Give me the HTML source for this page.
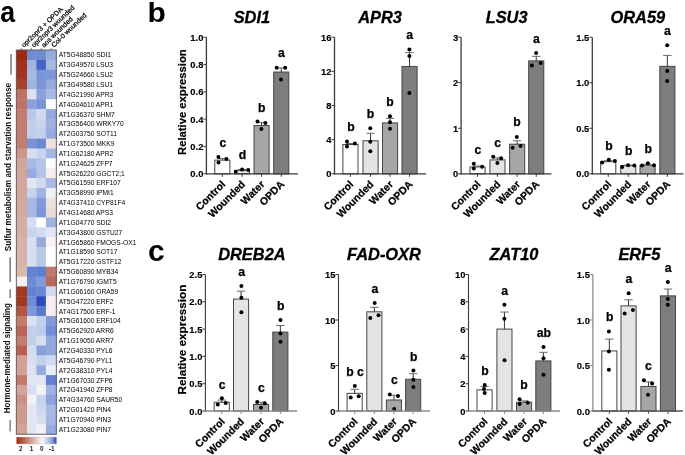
<!DOCTYPE html>
<html><head><meta charset="utf-8"><title>Figure</title>
<style>
html,body{margin:0;padding:0;background:#fff;}
body{width:685px;height:455px;overflow:hidden;}
svg{display:block;font-family:"Liberation Sans", sans-serif;filter:blur(0.35px);}
</style></head>
<body>
<svg width="685" height="455" viewBox="0 0 685 455">
<rect width="685" height="455" fill="#fff"/>
<rect x="16.3" y="50" width="11.1" height="10.25" fill="#9e2810"/>
<rect x="27" y="50" width="9.8" height="10.25" fill="#6e8cd2"/>
<rect x="36.4" y="50" width="9.9" height="10.25" fill="#6e8cd2"/>
<rect x="45.9" y="50" width="10.8" height="10.25" fill="#96aadc"/>
<text x="58.8" y="57.43" font-size="6.7" fill="#000">AT5G48850 SDI1</text>
<rect x="16.3" y="59.85" width="11.1" height="10.25" fill="#a3301c"/>
<rect x="27" y="59.85" width="9.8" height="10.25" fill="#a0b4e1"/>
<rect x="36.4" y="59.85" width="9.9" height="10.25" fill="#4664c8"/>
<rect x="45.9" y="59.85" width="10.8" height="10.25" fill="#a5b9e1"/>
<text x="58.8" y="67.28" font-size="6.7" fill="#000">AT3G49570 LSU3</text>
<rect x="16.3" y="69.7" width="11.1" height="10.25" fill="#a3321e"/>
<rect x="27" y="69.7" width="9.8" height="10.25" fill="#a5b9e4"/>
<rect x="36.4" y="69.7" width="9.9" height="10.25" fill="#7896d7"/>
<rect x="45.9" y="69.7" width="10.8" height="10.25" fill="#7d96d7"/>
<text x="58.8" y="77.13" font-size="6.7" fill="#000">AT5G24660 LSU2</text>
<rect x="16.3" y="79.55" width="11.1" height="10.25" fill="#a8402c"/>
<rect x="27" y="79.55" width="9.8" height="10.25" fill="#a0b4e1"/>
<rect x="36.4" y="79.55" width="9.9" height="10.25" fill="#7d96d7"/>
<rect x="45.9" y="79.55" width="10.8" height="10.25" fill="#96aadc"/>
<text x="58.8" y="86.98" font-size="6.7" fill="#000">AT3G49580 LSU1</text>
<rect x="16.3" y="89.41" width="11.1" height="10.25" fill="#be7364"/>
<rect x="27" y="89.41" width="9.8" height="10.25" fill="#dce1f0"/>
<rect x="36.4" y="89.41" width="9.9" height="10.25" fill="#8ca0dc"/>
<rect x="45.9" y="89.41" width="10.8" height="10.25" fill="#aab9e4"/>
<text x="58.8" y="96.83" font-size="6.7" fill="#000">AT4G21990 APR3</text>
<rect x="16.3" y="99.26" width="11.1" height="10.25" fill="#be7364"/>
<rect x="27" y="99.26" width="9.8" height="10.25" fill="#8ca0dc"/>
<rect x="36.4" y="99.26" width="9.9" height="10.25" fill="#7891d7"/>
<rect x="45.9" y="99.26" width="10.8" height="10.25" fill="#ffffff"/>
<text x="58.8" y="106.68" font-size="6.7" fill="#000">AT4G04610 APR1</text>
<rect x="16.3" y="109.11" width="11.1" height="10.25" fill="#c37d6e"/>
<rect x="27" y="109.11" width="9.8" height="10.25" fill="#b9c8e8"/>
<rect x="36.4" y="109.11" width="9.9" height="10.25" fill="#d2daf0"/>
<rect x="45.9" y="109.11" width="10.8" height="10.25" fill="#96aade"/>
<text x="58.8" y="116.53" font-size="6.7" fill="#000">AT1G36370 SHM7</text>
<rect x="16.3" y="118.96" width="11.1" height="10.25" fill="#c37d6e"/>
<rect x="27" y="118.96" width="9.8" height="10.25" fill="#c3cdeb"/>
<rect x="36.4" y="118.96" width="9.9" height="10.25" fill="#c8d4ee"/>
<rect x="45.9" y="118.96" width="10.8" height="10.25" fill="#a0b2e1"/>
<text x="58.8" y="126.38" font-size="6.7" fill="#000">AT3G56400 WRKY70</text>
<rect x="16.3" y="128.81" width="11.1" height="10.25" fill="#c37d6e"/>
<rect x="27" y="128.81" width="9.8" height="10.25" fill="#becdeb"/>
<rect x="36.4" y="128.81" width="9.9" height="10.25" fill="#c3d0ec"/>
<rect x="45.9" y="128.81" width="10.8" height="10.25" fill="#96aade"/>
<text x="58.8" y="136.24" font-size="6.7" fill="#000">AT2G03750 SOT11</text>
<rect x="16.3" y="138.66" width="11.1" height="10.25" fill="#c37d6e"/>
<rect x="27" y="138.66" width="9.8" height="10.25" fill="#7891d7"/>
<rect x="36.4" y="138.66" width="9.9" height="10.25" fill="#6987d2"/>
<rect x="45.9" y="138.66" width="10.8" height="10.25" fill="#eee1de"/>
<text x="58.8" y="146.09" font-size="6.7" fill="#000">AT1G73500 MKK9</text>
<rect x="16.3" y="148.51" width="11.1" height="10.25" fill="#cd9687"/>
<rect x="27" y="148.51" width="9.8" height="10.25" fill="#d7def0"/>
<rect x="36.4" y="148.51" width="9.9" height="10.25" fill="#c8d4ee"/>
<rect x="45.9" y="148.51" width="10.8" height="10.25" fill="#a5b6e2"/>
<text x="58.8" y="155.94" font-size="6.7" fill="#000">AT1G62180 APR2</text>
<rect x="16.3" y="158.36" width="11.1" height="10.25" fill="#d2a59b"/>
<rect x="27" y="158.36" width="9.8" height="10.25" fill="#a5b9e4"/>
<rect x="36.4" y="158.36" width="9.9" height="10.25" fill="#b4c3e8"/>
<rect x="45.9" y="158.36" width="10.8" height="10.25" fill="#fcfcfc"/>
<text x="58.8" y="165.79" font-size="6.7" fill="#000">AT1G24625 ZFP7</text>
<rect x="16.3" y="168.22" width="11.1" height="10.25" fill="#d2a59b"/>
<rect x="27" y="168.22" width="9.8" height="10.25" fill="#96ace0"/>
<rect x="36.4" y="168.22" width="9.9" height="10.25" fill="#b4c3e8"/>
<rect x="45.9" y="168.22" width="10.8" height="10.25" fill="#f5eeec"/>
<text x="58.8" y="175.64" font-size="6.7" fill="#000">AT5G26220 GGCT2;1</text>
<rect x="16.3" y="178.07" width="11.1" height="10.25" fill="#d2a89e"/>
<rect x="27" y="178.07" width="9.8" height="10.25" fill="#e1e6f3"/>
<rect x="36.4" y="178.07" width="9.9" height="10.25" fill="#d2daf0"/>
<rect x="45.9" y="178.07" width="10.8" height="10.25" fill="#aabae4"/>
<text x="58.8" y="185.49" font-size="6.7" fill="#000">AT5G61590 ERF107</text>
<rect x="16.3" y="187.92" width="11.1" height="10.25" fill="#d2a89e"/>
<rect x="27" y="187.92" width="9.8" height="10.25" fill="#c8d2ed"/>
<rect x="36.4" y="187.92" width="9.9" height="10.25" fill="#a0b2e1"/>
<rect x="45.9" y="187.92" width="10.8" height="10.25" fill="#eef0f6"/>
<text x="58.8" y="195.34" font-size="6.7" fill="#000">AT3G58990 IPMI1</text>
<rect x="16.3" y="197.77" width="11.1" height="10.25" fill="#d4aaa0"/>
<rect x="27" y="197.77" width="9.8" height="10.25" fill="#a5b9e4"/>
<rect x="36.4" y="197.77" width="9.9" height="10.25" fill="#829bda"/>
<rect x="45.9" y="197.77" width="10.8" height="10.25" fill="#eee1de"/>
<text x="58.8" y="205.19" font-size="6.7" fill="#000">AT4G37410 CYP81F4</text>
<rect x="16.3" y="207.62" width="11.1" height="10.25" fill="#d4aaa0"/>
<rect x="27" y="207.62" width="9.8" height="10.25" fill="#a5b9e4"/>
<rect x="36.4" y="207.62" width="9.9" height="10.25" fill="#7d96d8"/>
<rect x="45.9" y="207.62" width="10.8" height="10.25" fill="#ebdcd7"/>
<text x="58.8" y="215.05" font-size="6.7" fill="#000">AT4G14680 APS3</text>
<rect x="16.3" y="217.47" width="11.1" height="10.25" fill="#d4aca2"/>
<rect x="27" y="217.47" width="9.8" height="10.25" fill="#d7def0"/>
<rect x="36.4" y="217.47" width="9.9" height="10.25" fill="#ffffff"/>
<rect x="45.9" y="217.47" width="10.8" height="10.25" fill="#a0b2e1"/>
<text x="58.8" y="224.9" font-size="6.7" fill="#000">AT1G04770 SDI2</text>
<rect x="16.3" y="227.32" width="11.1" height="10.25" fill="#d4aca2"/>
<rect x="27" y="227.32" width="9.8" height="10.25" fill="#c8d4ee"/>
<rect x="36.4" y="227.32" width="9.9" height="10.25" fill="#d2daf0"/>
<rect x="45.9" y="227.32" width="10.8" height="10.25" fill="#e1e6f3"/>
<text x="58.8" y="234.75" font-size="6.7" fill="#000">AT3G43800 GSTU27</text>
<rect x="16.3" y="237.17" width="11.1" height="10.25" fill="#d7b2a8"/>
<rect x="27" y="237.17" width="9.8" height="10.25" fill="#d7def0"/>
<rect x="36.4" y="237.17" width="9.9" height="10.25" fill="#96aade"/>
<rect x="45.9" y="237.17" width="10.8" height="10.25" fill="#f8f3f0"/>
<text x="58.8" y="244.6" font-size="6.7" fill="#000">AT1G65860 FMOGS-OX1</text>
<rect x="16.3" y="247.03" width="11.1" height="10.25" fill="#d7b4aa"/>
<rect x="27" y="247.03" width="9.8" height="10.25" fill="#d7def0"/>
<rect x="36.4" y="247.03" width="9.9" height="10.25" fill="#b9c8e8"/>
<rect x="45.9" y="247.03" width="10.8" height="10.25" fill="#ffffff"/>
<text x="58.8" y="254.45" font-size="6.7" fill="#000">AT1G18590 SOT17</text>
<rect x="16.3" y="256.88" width="11.1" height="10.25" fill="#d7b4aa"/>
<rect x="27" y="256.88" width="9.8" height="10.25" fill="#d7def0"/>
<rect x="36.4" y="256.88" width="9.9" height="10.25" fill="#b9c8e8"/>
<rect x="45.9" y="256.88" width="10.8" height="10.25" fill="#ffffff"/>
<text x="58.8" y="264.3" font-size="6.7" fill="#000">AT5G17220 GSTF12</text>
<rect x="16.3" y="266.73" width="11.1" height="10.25" fill="#dcb9af"/>
<rect x="27" y="266.73" width="9.8" height="10.25" fill="#6482d2"/>
<rect x="36.4" y="266.73" width="9.9" height="10.25" fill="#5f7dd0"/>
<rect x="45.9" y="266.73" width="10.8" height="10.25" fill="#c07a6b"/>
<text x="58.8" y="274.15" font-size="6.7" fill="#000">AT5G60890 MYB34</text>
<rect x="16.3" y="276.58" width="11.1" height="10.25" fill="#f5eeeb"/>
<rect x="27" y="276.58" width="9.8" height="10.25" fill="#6e8cd4"/>
<rect x="36.4" y="276.58" width="9.9" height="10.25" fill="#829bda"/>
<rect x="45.9" y="276.58" width="10.8" height="10.25" fill="#b9695a"/>
<text x="58.8" y="284.01" font-size="6.7" fill="#000">AT1G76790 IGMT5</text>
<rect x="16.3" y="286.43" width="11.1" height="10.25" fill="#a5371e"/>
<rect x="27" y="286.43" width="9.8" height="10.25" fill="#6482d2"/>
<rect x="36.4" y="286.43" width="9.9" height="10.25" fill="#6987d2"/>
<rect x="45.9" y="286.43" width="10.8" height="10.25" fill="#d2daf0"/>
<text x="58.8" y="293.86" font-size="6.7" fill="#000">AT1G06160 ORA59</text>
<rect x="16.3" y="296.28" width="11.1" height="10.25" fill="#a5371e"/>
<rect x="27" y="296.28" width="9.8" height="10.25" fill="#6e8cd4"/>
<rect x="36.4" y="296.28" width="9.9" height="10.25" fill="#2d4bb9"/>
<rect x="45.9" y="296.28" width="10.8" height="10.25" fill="#f5eeec"/>
<text x="58.8" y="303.71" font-size="6.7" fill="#000">AT5G47220 ERF2</text>
<rect x="16.3" y="306.13" width="11.1" height="10.25" fill="#b45541"/>
<rect x="27" y="306.13" width="9.8" height="10.25" fill="#7d96d8"/>
<rect x="36.4" y="306.13" width="9.9" height="10.25" fill="#5a78cd"/>
<rect x="45.9" y="306.13" width="10.8" height="10.25" fill="#f5eeec"/>
<text x="58.8" y="313.56" font-size="6.7" fill="#000">AT4G17500 ERF-1</text>
<rect x="16.3" y="315.98" width="11.1" height="10.25" fill="#c37d6e"/>
<rect x="27" y="315.98" width="9.8" height="10.25" fill="#dce2f2"/>
<rect x="36.4" y="315.98" width="9.9" height="10.25" fill="#c3d0ec"/>
<rect x="45.9" y="315.98" width="10.8" height="10.25" fill="#829bda"/>
<text x="58.8" y="323.41" font-size="6.7" fill="#000">AT5G61600 ERF104</text>
<rect x="16.3" y="325.84" width="11.1" height="10.25" fill="#b96455"/>
<rect x="27" y="325.84" width="9.8" height="10.25" fill="#c3d0ec"/>
<rect x="36.4" y="325.84" width="9.9" height="10.25" fill="#becbea"/>
<rect x="45.9" y="325.84" width="10.8" height="10.25" fill="#738ed6"/>
<text x="58.8" y="333.26" font-size="6.7" fill="#000">AT5G62920 ARR6</text>
<rect x="16.3" y="335.69" width="11.1" height="10.25" fill="#c37d6e"/>
<rect x="27" y="335.69" width="9.8" height="10.25" fill="#c3d0ec"/>
<rect x="36.4" y="335.69" width="9.9" height="10.25" fill="#d7def0"/>
<rect x="45.9" y="335.69" width="10.8" height="10.25" fill="#91a8de"/>
<text x="58.8" y="343.11" font-size="6.7" fill="#000">AT1G19050 ARR7</text>
<rect x="16.3" y="345.54" width="11.1" height="10.25" fill="#b95f50"/>
<rect x="27" y="345.54" width="9.8" height="10.25" fill="#d4dcf0"/>
<rect x="36.4" y="345.54" width="9.9" height="10.25" fill="#8aa0db"/>
<rect x="45.9" y="345.54" width="10.8" height="10.25" fill="#94a8dd"/>
<text x="58.8" y="352.96" font-size="6.7" fill="#000">AT2G40330 PYL6</text>
<rect x="16.3" y="355.39" width="11.1" height="10.25" fill="#d2a094"/>
<rect x="27" y="355.39" width="9.8" height="10.25" fill="#d7def0"/>
<rect x="36.4" y="355.39" width="9.9" height="10.25" fill="#c3d0ec"/>
<rect x="45.9" y="355.39" width="10.8" height="10.25" fill="#d2daf0"/>
<text x="58.8" y="362.82" font-size="6.7" fill="#000">AT5G46790 PYL1</text>
<rect x="16.3" y="365.24" width="11.1" height="10.25" fill="#d2a094"/>
<rect x="27" y="365.24" width="9.8" height="10.25" fill="#dce2f2"/>
<rect x="36.4" y="365.24" width="9.9" height="10.25" fill="#96aade"/>
<rect x="45.9" y="365.24" width="10.8" height="10.25" fill="#ebeef6"/>
<text x="58.8" y="372.67" font-size="6.7" fill="#000">AT2G38310 PYL4</text>
<rect x="16.3" y="375.09" width="11.1" height="10.25" fill="#c37869"/>
<rect x="27" y="375.09" width="9.8" height="10.25" fill="#e1e6f3"/>
<rect x="36.4" y="375.09" width="9.9" height="10.25" fill="#e1e6f3"/>
<rect x="45.9" y="375.09" width="10.8" height="10.25" fill="#6480d0"/>
<text x="58.8" y="382.52" font-size="6.7" fill="#000">AT1G67030 ZFP6</text>
<rect x="16.3" y="384.94" width="11.1" height="10.25" fill="#d2a598"/>
<rect x="27" y="384.94" width="9.8" height="10.25" fill="#d7def0"/>
<rect x="36.4" y="384.94" width="9.9" height="10.25" fill="#f0f2f8"/>
<rect x="45.9" y="384.94" width="10.8" height="10.25" fill="#a0b2e1"/>
<text x="58.8" y="392.37" font-size="6.7" fill="#000">AT2G41940 ZFP8</text>
<rect x="16.3" y="394.79" width="11.1" height="10.25" fill="#cd9184"/>
<rect x="27" y="394.79" width="9.8" height="10.25" fill="#f0f2f8"/>
<rect x="36.4" y="394.79" width="9.9" height="10.25" fill="#c8d4ee"/>
<rect x="45.9" y="394.79" width="10.8" height="10.25" fill="#8ca2dc"/>
<text x="58.8" y="402.22" font-size="6.7" fill="#000">AT4G34760 SAUR50</text>
<rect x="16.3" y="404.65" width="11.1" height="10.25" fill="#d09b8e"/>
<rect x="27" y="404.65" width="9.8" height="10.25" fill="#e1e6f3"/>
<rect x="36.4" y="404.65" width="9.9" height="10.25" fill="#cdd7ee"/>
<rect x="45.9" y="404.65" width="10.8" height="10.25" fill="#aabae4"/>
<text x="58.8" y="412.07" font-size="6.7" fill="#000">AT2G01420 PIN4</text>
<rect x="16.3" y="414.5" width="11.1" height="10.25" fill="#d09b8e"/>
<rect x="27" y="414.5" width="9.8" height="10.25" fill="#e1e6f3"/>
<rect x="36.4" y="414.5" width="9.9" height="10.25" fill="#d7def0"/>
<rect x="45.9" y="414.5" width="10.8" height="10.25" fill="#a5b6e2"/>
<text x="58.8" y="421.92" font-size="6.7" fill="#000">AT1G70940 PIN3</text>
<rect x="16.3" y="424.35" width="11.1" height="10.25" fill="#d2a296"/>
<rect x="27" y="424.35" width="9.8" height="10.25" fill="#e1e6f3"/>
<rect x="36.4" y="424.35" width="9.9" height="10.25" fill="#f0f2f8"/>
<rect x="45.9" y="424.35" width="10.8" height="10.25" fill="#96aade"/>
<text x="58.8" y="431.77" font-size="6.7" fill="#000">AT1G23080 PIN7</text>
<rect x="16.3" y="50" width="40" height="384.2" fill="none" stroke="#555" stroke-width="0.9"/>
<line x1="21.3" y1="48" x2="21.3" y2="50" stroke="#555" stroke-width="0.7"/>
<line x1="31.3" y1="48" x2="31.3" y2="50" stroke="#555" stroke-width="0.7"/>
<line x1="41.3" y1="48" x2="41.3" y2="50" stroke="#555" stroke-width="0.7"/>
<line x1="51.3" y1="48" x2="51.3" y2="50" stroke="#555" stroke-width="0.7"/>
<text transform="translate(23.9,47.8) rotate(-44)" font-size="6.85" fill="#000" stroke="#000" stroke-width="0.22"><tspan>opr2opr3</tspan> + OPDA</text>
<text transform="translate(33.9,47.8) rotate(-44)" font-size="6.85" fill="#000" stroke="#000" stroke-width="0.22"><tspan>opr2opr3</tspan> wounded</text>
<text transform="translate(43.9,47.8) rotate(-44)" font-size="6.85" fill="#000" stroke="#000" stroke-width="0.22"><tspan>aos</tspan> wounded</text>
<text transform="translate(53.9,47.8) rotate(-44)" font-size="6.85" fill="#000" stroke="#000" stroke-width="0.22"><tspan>Col-0</tspan> wounded</text>
<text transform="translate(11.1,251.3) rotate(-90)" font-size="8.8" font-weight="bold" fill="#111" textLength="168.3" lengthAdjust="spacingAndGlyphs">Sulfur metabolism and starvation response</text>
<line x1="11" y1="54" x2="11" y2="74.6" stroke="#333" stroke-width="1"/>
<line x1="10.1" y1="257.4" x2="10.1" y2="282" stroke="#333" stroke-width="1"/>
<text transform="translate(9.7,413.2) rotate(-90)" font-size="8.8" font-weight="bold" fill="#111" textLength="110" lengthAdjust="spacingAndGlyphs">Hormone-mediated signaling</text>
<line x1="10.1" y1="289.2" x2="10.1" y2="298.2" stroke="#444" stroke-width="1"/>
<line x1="10.1" y1="420" x2="10.1" y2="431.5" stroke="#444" stroke-width="1"/>
<defs><linearGradient id="cb" x1="0" x2="1" y1="0" y2="0">
<stop offset="0" stop-color="#a8280f"/>
<stop offset="0.12" stop-color="#b44a32"/>
<stop offset="0.38" stop-color="#d4a396"/>
<stop offset="0.63" stop-color="#f8f5f4"/>
<stop offset="0.66" stop-color="#f6f7fb"/>
<stop offset="0.88" stop-color="#8ea3da"/>
<stop offset="1" stop-color="#2848b8"/>
</linearGradient></defs>
<rect x="16.3" y="437" width="40.3" height="7" fill="url(#cb)" stroke="#c8c8c8" stroke-width="0.4"/>
<text x="20.8" y="451.4" font-size="6.4" font-weight="bold" text-anchor="middle" fill="#222">2</text>
<text x="31.5" y="451.4" font-size="6.4" font-weight="bold" text-anchor="middle" fill="#222">1</text>
<text x="41.7" y="451.4" font-size="6.4" font-weight="bold" text-anchor="middle" fill="#222">0</text>
<text x="51.6" y="451.4" font-size="6.4" font-weight="bold" text-anchor="middle" fill="#222">-1</text>
<text transform="translate(0.2,22.1) scale(0.89,1)" font-size="30" font-weight="bold">a</text>
<text transform="translate(147.5,22.2) scale(1,0.94)" font-size="30" font-weight="bold">b</text>
<text x="148" y="261.4" font-size="30" font-weight="bold">c</text>
<text x="251.9" y="23" font-size="16.4" font-weight="bold" font-style="italic" text-anchor="middle" stroke="#000" stroke-width="0.3">SDI1</text>
<rect x="214.8" y="160.14" width="15.1" height="13.66" fill="#ffffff" stroke="#444" stroke-width="1"/>
<path d="M222.35 160.14V158.5" stroke="#333" stroke-width="1" fill="none"/>
<path d="M218.15 158.5H226.55" stroke="#6a6a6a" stroke-width="1" fill="none"/>
<circle cx="218.4" cy="157.1" r="2.0" fill="#000"/>
<circle cx="218.5" cy="162.4" r="2.0" fill="#000"/>
<circle cx="226.4" cy="159" r="2.0" fill="#000"/>
<text x="222.8" y="146.7" font-size="12.2" font-weight="bold" text-anchor="middle" stroke="#000" stroke-width="0.25">c</text>
<line x1="222.35" y1="173.8" x2="222.35" y2="176.8" stroke="#3a3a3a" stroke-width="1"/>
<text transform="translate(226.05,185) rotate(-45)" font-size="10.4" font-weight="bold" text-anchor="end" stroke="#000" stroke-width="0.25">Control</text>
<rect x="234.5" y="170.39" width="15.1" height="3.41" fill="#e4e4e4" stroke="#444" stroke-width="1"/>
<path d="M242.05 170.39V169.43" stroke="#333" stroke-width="1" fill="none"/>
<path d="M237.85 169.43H246.25" stroke="#6a6a6a" stroke-width="1" fill="none"/>
<circle cx="235.7" cy="171.7" r="2.0" fill="#000"/>
<circle cx="242.1" cy="169.4" r="2.0" fill="#000"/>
<circle cx="248.2" cy="170" r="2.0" fill="#000"/>
<text x="242.4" y="158.5" font-size="12.2" font-weight="bold" text-anchor="middle" stroke="#000" stroke-width="0.25">d</text>
<line x1="242.05" y1="173.8" x2="242.05" y2="176.8" stroke="#3a3a3a" stroke-width="1"/>
<text transform="translate(245.75,185) rotate(-45)" font-size="10.4" font-weight="bold" text-anchor="end" stroke="#000" stroke-width="0.25">Wounded</text>
<rect x="254" y="125.58" width="15.1" height="48.22" fill="#a6a6a6" stroke="#444" stroke-width="1"/>
<path d="M261.55 125.58V122.58" stroke="#333" stroke-width="1" fill="none"/>
<path d="M257.35 122.58H265.75" stroke="#6a6a6a" stroke-width="1" fill="none"/>
<circle cx="257.5" cy="121.5" r="2.0" fill="#000"/>
<circle cx="265.4" cy="123.1" r="2.0" fill="#000"/>
<circle cx="261.4" cy="129" r="2.0" fill="#000"/>
<text x="261.7" y="111.6" font-size="12.2" font-weight="bold" text-anchor="middle" stroke="#000" stroke-width="0.25">b</text>
<line x1="261.55" y1="173.8" x2="261.55" y2="176.8" stroke="#3a3a3a" stroke-width="1"/>
<text transform="translate(265.25,185) rotate(-45)" font-size="10.4" font-weight="bold" text-anchor="end" stroke="#000" stroke-width="0.25">Water</text>
<rect x="273.7" y="72.03" width="15.1" height="101.77" fill="#7d7d7d" stroke="#444" stroke-width="1"/>
<path d="M281.25 72.03V67.93" stroke="#333" stroke-width="1" fill="none"/>
<path d="M277.05 67.93H285.45" stroke="#6a6a6a" stroke-width="1" fill="none"/>
<circle cx="276.7" cy="67.7" r="2.0" fill="#000"/>
<circle cx="285.2" cy="67.7" r="2.0" fill="#000"/>
<circle cx="281" cy="79.6" r="2.0" fill="#000"/>
<text x="281.3" y="57.4" font-size="12.2" font-weight="bold" text-anchor="middle" stroke="#000" stroke-width="0.25">a</text>
<line x1="281.25" y1="173.8" x2="281.25" y2="176.8" stroke="#3a3a3a" stroke-width="1"/>
<text transform="translate(284.95,185) rotate(-45)" font-size="10.4" font-weight="bold" text-anchor="end" stroke="#000" stroke-width="0.25">OPDA</text>
<path d="M206.4 37.2V174.4" stroke="#3a3a3a" stroke-width="1.3" fill="none"/>
<path d="M205.8 173.8H297.9" stroke="#3a3a3a" stroke-width="1.3" fill="none"/>
<line x1="203.4" y1="173.8" x2="206.4" y2="173.8" stroke="#3a3a3a" stroke-width="1"/>
<text x="203.4" y="177.3" font-size="9.4" font-weight="bold" text-anchor="end" stroke="#000" stroke-width="0.15">0.0</text>
<line x1="203.4" y1="146.48" x2="206.4" y2="146.48" stroke="#3a3a3a" stroke-width="1"/>
<text x="203.4" y="149.98" font-size="9.4" font-weight="bold" text-anchor="end" stroke="#000" stroke-width="0.15">0.2</text>
<line x1="203.4" y1="119.16" x2="206.4" y2="119.16" stroke="#3a3a3a" stroke-width="1"/>
<text x="203.4" y="122.66" font-size="9.4" font-weight="bold" text-anchor="end" stroke="#000" stroke-width="0.15">0.4</text>
<line x1="203.4" y1="91.84" x2="206.4" y2="91.84" stroke="#3a3a3a" stroke-width="1"/>
<text x="203.4" y="95.34" font-size="9.4" font-weight="bold" text-anchor="end" stroke="#000" stroke-width="0.15">0.6</text>
<line x1="203.4" y1="64.52" x2="206.4" y2="64.52" stroke="#3a3a3a" stroke-width="1"/>
<text x="203.4" y="68.02" font-size="9.4" font-weight="bold" text-anchor="end" stroke="#000" stroke-width="0.15">0.8</text>
<line x1="203.4" y1="37.2" x2="206.4" y2="37.2" stroke="#3a3a3a" stroke-width="1"/>
<text x="203.4" y="40.7" font-size="9.4" font-weight="bold" text-anchor="end" stroke="#000" stroke-width="0.15">1.0</text>
<text transform="translate(185.9,102.1) rotate(-90)" font-size="11.25" font-weight="bold" text-anchor="middle" stroke="#000" stroke-width="0.2">Relative expression</text>
<text x="380" y="23" font-size="16.4" font-weight="bold" font-style="italic" text-anchor="middle" stroke="#000" stroke-width="0.3">APR3</text>
<rect x="342.9" y="144.52" width="15.1" height="29.28" fill="#ffffff" stroke="#444" stroke-width="1"/>
<path d="M350.45 144.52V143.49" stroke="#333" stroke-width="1" fill="none"/>
<path d="M346.25 143.49H354.65" stroke="#6a6a6a" stroke-width="1" fill="none"/>
<circle cx="347" cy="141.4" r="2.0" fill="#000"/>
<circle cx="347" cy="146.6" r="2.0" fill="#000"/>
<circle cx="354.9" cy="143.6" r="2.0" fill="#000"/>
<text x="351" y="130.9" font-size="12.2" font-weight="bold" text-anchor="middle" stroke="#000" stroke-width="0.25">b</text>
<line x1="350.45" y1="173.8" x2="350.45" y2="176.8" stroke="#3a3a3a" stroke-width="1"/>
<text transform="translate(354.15,185) rotate(-45)" font-size="10.4" font-weight="bold" text-anchor="end" stroke="#000" stroke-width="0.25">Control</text>
<rect x="363" y="140.76" width="15.1" height="33.04" fill="#e4e4e4" stroke="#444" stroke-width="1"/>
<path d="M370.55 140.76V133.25" stroke="#333" stroke-width="1" fill="none"/>
<path d="M366.35 133.25H374.75" stroke="#6a6a6a" stroke-width="1" fill="none"/>
<circle cx="370.3" cy="128.2" r="2.0" fill="#000"/>
<circle cx="370.3" cy="141.8" r="2.0" fill="#000"/>
<circle cx="370.3" cy="151.2" r="2.0" fill="#000"/>
<text x="370.6" y="117.5" font-size="12.2" font-weight="bold" text-anchor="middle" stroke="#000" stroke-width="0.25">b</text>
<line x1="370.55" y1="173.8" x2="370.55" y2="176.8" stroke="#3a3a3a" stroke-width="1"/>
<text transform="translate(374.25,185) rotate(-45)" font-size="10.4" font-weight="bold" text-anchor="end" stroke="#000" stroke-width="0.25">Wounded</text>
<rect x="382.5" y="122.92" width="15.1" height="50.88" fill="#a6a6a6" stroke="#444" stroke-width="1"/>
<path d="M390.05 122.92V118.31" stroke="#333" stroke-width="1" fill="none"/>
<path d="M385.85 118.31H394.25" stroke="#6a6a6a" stroke-width="1" fill="none"/>
<circle cx="390" cy="116.3" r="2.0" fill="#000"/>
<circle cx="390" cy="122.3" r="2.0" fill="#000"/>
<circle cx="390" cy="128.7" r="2.0" fill="#000"/>
<text x="390.1" y="106.2" font-size="12.2" font-weight="bold" text-anchor="middle" stroke="#000" stroke-width="0.25">b</text>
<line x1="390.05" y1="173.8" x2="390.05" y2="176.8" stroke="#3a3a3a" stroke-width="1"/>
<text transform="translate(393.75,185) rotate(-45)" font-size="10.4" font-weight="bold" text-anchor="end" stroke="#000" stroke-width="0.25">Water</text>
<rect x="402" y="66.48" width="15.1" height="107.32" fill="#7d7d7d" stroke="#444" stroke-width="1"/>
<path d="M409.55 66.48V52.57" stroke="#333" stroke-width="1" fill="none"/>
<path d="M405.35 52.57H413.75" stroke="#6a6a6a" stroke-width="1" fill="none"/>
<circle cx="409.4" cy="49.4" r="2.0" fill="#000"/>
<circle cx="409.4" cy="56.1" r="2.0" fill="#000"/>
<circle cx="409.4" cy="92.9" r="2.0" fill="#000"/>
<text x="409.7" y="38.9" font-size="12.2" font-weight="bold" text-anchor="middle" stroke="#000" stroke-width="0.25">a</text>
<line x1="409.55" y1="173.8" x2="409.55" y2="176.8" stroke="#3a3a3a" stroke-width="1"/>
<text transform="translate(413.25,185) rotate(-45)" font-size="10.4" font-weight="bold" text-anchor="end" stroke="#000" stroke-width="0.25">OPDA</text>
<path d="M334.5 37.2V174.4" stroke="#3a3a3a" stroke-width="1.3" fill="none"/>
<path d="M333.9 173.8H426" stroke="#3a3a3a" stroke-width="1.3" fill="none"/>
<line x1="331.5" y1="173.8" x2="334.5" y2="173.8" stroke="#3a3a3a" stroke-width="1"/>
<text x="331.5" y="177.3" font-size="9.4" font-weight="bold" text-anchor="end" stroke="#000" stroke-width="0.15">0</text>
<line x1="331.5" y1="139.65" x2="334.5" y2="139.65" stroke="#3a3a3a" stroke-width="1"/>
<text x="331.5" y="143.15" font-size="9.4" font-weight="bold" text-anchor="end" stroke="#000" stroke-width="0.15">4</text>
<line x1="331.5" y1="105.5" x2="334.5" y2="105.5" stroke="#3a3a3a" stroke-width="1"/>
<text x="331.5" y="109" font-size="9.4" font-weight="bold" text-anchor="end" stroke="#000" stroke-width="0.15">8</text>
<line x1="331.5" y1="71.35" x2="334.5" y2="71.35" stroke="#3a3a3a" stroke-width="1"/>
<text x="331.5" y="74.85" font-size="9.4" font-weight="bold" text-anchor="end" stroke="#000" stroke-width="0.15">12</text>
<line x1="331.5" y1="37.2" x2="334.5" y2="37.2" stroke="#3a3a3a" stroke-width="1"/>
<text x="331.5" y="40.7" font-size="9.4" font-weight="bold" text-anchor="end" stroke="#000" stroke-width="0.15">16</text>
<text x="506.6" y="23" font-size="16.4" font-weight="bold" font-style="italic" text-anchor="middle" stroke="#000" stroke-width="0.3">LSU3</text>
<rect x="470" y="166.97" width="15.1" height="6.83" fill="#ffffff" stroke="#444" stroke-width="1"/>
<path d="M477.55 166.97V166.06" stroke="#333" stroke-width="1" fill="none"/>
<path d="M473.35 166.06H481.75" stroke="#6a6a6a" stroke-width="1" fill="none"/>
<circle cx="473.8" cy="163.8" r="2.0" fill="#000"/>
<circle cx="473.8" cy="168.6" r="2.0" fill="#000"/>
<circle cx="482.1" cy="166.8" r="2.0" fill="#000"/>
<text x="477.9" y="153.8" font-size="12.2" font-weight="bold" text-anchor="middle" stroke="#000" stroke-width="0.25">c</text>
<line x1="477.55" y1="173.8" x2="477.55" y2="176.8" stroke="#3a3a3a" stroke-width="1"/>
<text transform="translate(481.25,185) rotate(-45)" font-size="10.4" font-weight="bold" text-anchor="end" stroke="#000" stroke-width="0.25">Control</text>
<rect x="489.9" y="159.91" width="15.1" height="13.89" fill="#e4e4e4" stroke="#444" stroke-width="1"/>
<path d="M497.45 159.91V157.86" stroke="#333" stroke-width="1" fill="none"/>
<path d="M493.25 157.86H501.65" stroke="#6a6a6a" stroke-width="1" fill="none"/>
<circle cx="493.2" cy="156.8" r="2.0" fill="#000"/>
<circle cx="501.1" cy="158.3" r="2.0" fill="#000"/>
<circle cx="497.4" cy="163.1" r="2.0" fill="#000"/>
<text x="497.7" y="146.6" font-size="12.2" font-weight="bold" text-anchor="middle" stroke="#000" stroke-width="0.25">c</text>
<line x1="497.45" y1="173.8" x2="497.45" y2="176.8" stroke="#3a3a3a" stroke-width="1"/>
<text transform="translate(501.15,185) rotate(-45)" font-size="10.4" font-weight="bold" text-anchor="end" stroke="#000" stroke-width="0.25">Wounded</text>
<rect x="509.6" y="144.2" width="15.1" height="29.6" fill="#a6a6a6" stroke="#444" stroke-width="1"/>
<path d="M517.15 144.2V140.79" stroke="#333" stroke-width="1" fill="none"/>
<path d="M512.95 140.79H521.35" stroke="#6a6a6a" stroke-width="1" fill="none"/>
<circle cx="516.8" cy="136.9" r="2.0" fill="#000"/>
<circle cx="512.6" cy="147.7" r="2.0" fill="#000"/>
<circle cx="520.6" cy="145.9" r="2.0" fill="#000"/>
<text x="517.1" y="125.9" font-size="12.2" font-weight="bold" text-anchor="middle" stroke="#000" stroke-width="0.25">b</text>
<line x1="517.15" y1="173.8" x2="517.15" y2="176.8" stroke="#3a3a3a" stroke-width="1"/>
<text transform="translate(520.85,185) rotate(-45)" font-size="10.4" font-weight="bold" text-anchor="end" stroke="#000" stroke-width="0.25">Water</text>
<rect x="528.7" y="60.88" width="15.1" height="112.92" fill="#7d7d7d" stroke="#444" stroke-width="1"/>
<path d="M536.25 60.88V56.32" stroke="#333" stroke-width="1" fill="none"/>
<path d="M532.05 56.32H540.45" stroke="#6a6a6a" stroke-width="1" fill="none"/>
<circle cx="536.1" cy="53" r="2.0" fill="#000"/>
<circle cx="531.9" cy="65.5" r="2.0" fill="#000"/>
<circle cx="540.7" cy="63.1" r="2.0" fill="#000"/>
<text x="536.4" y="43.1" font-size="12.2" font-weight="bold" text-anchor="middle" stroke="#000" stroke-width="0.25">a</text>
<line x1="536.25" y1="173.8" x2="536.25" y2="176.8" stroke="#3a3a3a" stroke-width="1"/>
<text transform="translate(539.95,185) rotate(-45)" font-size="10.4" font-weight="bold" text-anchor="end" stroke="#000" stroke-width="0.25">OPDA</text>
<path d="M461.1 37.2V174.4" stroke="#3a3a3a" stroke-width="1.3" fill="none"/>
<path d="M460.5 173.8H551.5" stroke="#3a3a3a" stroke-width="1.3" fill="none"/>
<line x1="458.1" y1="173.8" x2="461.1" y2="173.8" stroke="#3a3a3a" stroke-width="1"/>
<text x="458.1" y="177.3" font-size="9.4" font-weight="bold" text-anchor="end" stroke="#000" stroke-width="0.15">0</text>
<line x1="458.1" y1="128.27" x2="461.1" y2="128.27" stroke="#3a3a3a" stroke-width="1"/>
<text x="458.1" y="131.77" font-size="9.4" font-weight="bold" text-anchor="end" stroke="#000" stroke-width="0.15">1</text>
<line x1="458.1" y1="82.73" x2="461.1" y2="82.73" stroke="#3a3a3a" stroke-width="1"/>
<text x="458.1" y="86.23" font-size="9.4" font-weight="bold" text-anchor="end" stroke="#000" stroke-width="0.15">2</text>
<line x1="458.1" y1="37.2" x2="461.1" y2="37.2" stroke="#3a3a3a" stroke-width="1"/>
<text x="458.1" y="40.7" font-size="9.4" font-weight="bold" text-anchor="end" stroke="#000" stroke-width="0.15">3</text>
<text x="637.8" y="23" font-size="16.4" font-weight="bold" font-style="italic" text-anchor="middle" stroke="#000" stroke-width="0.3">ORA59</text>
<rect x="600.7" y="161.69" width="15.1" height="12.11" fill="#ffffff" stroke="#444" stroke-width="1"/>
<path d="M608.25 161.69V160.6" stroke="#333" stroke-width="1" fill="none"/>
<path d="M604.05 160.6H612.45" stroke="#6a6a6a" stroke-width="1" fill="none"/>
<circle cx="602.2" cy="162.6" r="2.0" fill="#000"/>
<circle cx="608.8" cy="159.8" r="2.0" fill="#000"/>
<circle cx="614.9" cy="161.1" r="2.0" fill="#000"/>
<text x="609.1" y="150.1" font-size="12.2" font-weight="bold" text-anchor="middle" stroke="#000" stroke-width="0.25">b</text>
<line x1="608.25" y1="173.8" x2="608.25" y2="176.8" stroke="#3a3a3a" stroke-width="1"/>
<text transform="translate(611.95,185) rotate(-45)" font-size="10.4" font-weight="bold" text-anchor="end" stroke="#000" stroke-width="0.25">Control</text>
<rect x="620.7" y="165.7" width="15.1" height="8.1" fill="#e4e4e4" stroke="#444" stroke-width="1"/>
<path d="M628.25 165.7V165.15" stroke="#333" stroke-width="1" fill="none"/>
<path d="M624.05 165.15H632.45" stroke="#6a6a6a" stroke-width="1" fill="none"/>
<circle cx="622.2" cy="167" r="2.0" fill="#000"/>
<circle cx="628.1" cy="165.2" r="2.0" fill="#000"/>
<circle cx="634.3" cy="165.5" r="2.0" fill="#000"/>
<text x="628.8" y="154.9" font-size="12.2" font-weight="bold" text-anchor="middle" stroke="#000" stroke-width="0.25">b</text>
<line x1="628.25" y1="173.8" x2="628.25" y2="176.8" stroke="#3a3a3a" stroke-width="1"/>
<text transform="translate(631.95,185) rotate(-45)" font-size="10.4" font-weight="bold" text-anchor="end" stroke="#000" stroke-width="0.25">Wounded</text>
<rect x="640" y="165.24" width="15.1" height="8.56" fill="#a6a6a6" stroke="#444" stroke-width="1"/>
<path d="M647.55 165.24V164.24" stroke="#333" stroke-width="1" fill="none"/>
<path d="M643.35 164.24H651.75" stroke="#6a6a6a" stroke-width="1" fill="none"/>
<circle cx="642" cy="165.5" r="2.0" fill="#000"/>
<circle cx="647.9" cy="163.3" r="2.0" fill="#000"/>
<circle cx="654" cy="165.2" r="2.0" fill="#000"/>
<text x="648.2" y="153.4" font-size="12.2" font-weight="bold" text-anchor="middle" stroke="#000" stroke-width="0.25">b</text>
<line x1="647.55" y1="173.8" x2="647.55" y2="176.8" stroke="#3a3a3a" stroke-width="1"/>
<text transform="translate(651.25,185) rotate(-45)" font-size="10.4" font-weight="bold" text-anchor="end" stroke="#000" stroke-width="0.25">Water</text>
<rect x="659.8" y="66.34" width="15.1" height="107.46" fill="#7d7d7d" stroke="#444" stroke-width="1"/>
<path d="M667.35 66.34V55.41" stroke="#333" stroke-width="1" fill="none"/>
<path d="M663.15 55.41H671.55" stroke="#6a6a6a" stroke-width="1" fill="none"/>
<circle cx="667.2" cy="45.3" r="2.0" fill="#000"/>
<circle cx="667.2" cy="71" r="2.0" fill="#000"/>
<circle cx="667.2" cy="81.1" r="2.0" fill="#000"/>
<text x="667.5" y="34.9" font-size="12.2" font-weight="bold" text-anchor="middle" stroke="#000" stroke-width="0.25">a</text>
<line x1="667.35" y1="173.8" x2="667.35" y2="176.8" stroke="#3a3a3a" stroke-width="1"/>
<text transform="translate(671.05,185) rotate(-45)" font-size="10.4" font-weight="bold" text-anchor="end" stroke="#000" stroke-width="0.25">OPDA</text>
<path d="M592.3 37.2V174.4" stroke="#3a3a3a" stroke-width="1.3" fill="none"/>
<path d="M591.7 173.8H683.5" stroke="#3a3a3a" stroke-width="1.3" fill="none"/>
<line x1="589.3" y1="173.8" x2="592.3" y2="173.8" stroke="#3a3a3a" stroke-width="1"/>
<text x="589.3" y="177.3" font-size="9.4" font-weight="bold" text-anchor="end" stroke="#000" stroke-width="0.15">0.0</text>
<line x1="589.3" y1="128.27" x2="592.3" y2="128.27" stroke="#3a3a3a" stroke-width="1"/>
<text x="589.3" y="131.77" font-size="9.4" font-weight="bold" text-anchor="end" stroke="#000" stroke-width="0.15">0.5</text>
<line x1="589.3" y1="82.73" x2="592.3" y2="82.73" stroke="#3a3a3a" stroke-width="1"/>
<text x="589.3" y="86.23" font-size="9.4" font-weight="bold" text-anchor="end" stroke="#000" stroke-width="0.15">1.0</text>
<line x1="589.3" y1="37.2" x2="592.3" y2="37.2" stroke="#3a3a3a" stroke-width="1"/>
<text x="589.3" y="40.7" font-size="9.4" font-weight="bold" text-anchor="end" stroke="#000" stroke-width="0.15">1.5</text>
<text x="251.9" y="260.3" font-size="16.4" font-weight="bold" font-style="italic" text-anchor="middle" stroke="#000" stroke-width="0.3">DREB2A</text>
<rect x="214.2" y="402.26" width="15.1" height="8.74" fill="#ffffff" stroke="#444" stroke-width="1"/>
<path d="M221.75 402.26V400.08" stroke="#333" stroke-width="1" fill="none"/>
<path d="M217.55 400.08H225.95" stroke="#6a6a6a" stroke-width="1" fill="none"/>
<circle cx="217.8" cy="404.4" r="2.0" fill="#000"/>
<circle cx="221.9" cy="398.3" r="2.0" fill="#000"/>
<circle cx="225.7" cy="403.1" r="2.0" fill="#000"/>
<text x="222.1" y="388.5" font-size="12.2" font-weight="bold" text-anchor="middle" stroke="#000" stroke-width="0.25">c</text>
<line x1="221.75" y1="411" x2="221.75" y2="414" stroke="#8a8a8a" stroke-width="1"/>
<text transform="translate(225.45,422.2) rotate(-45)" font-size="10.4" font-weight="bold" text-anchor="end" stroke="#000" stroke-width="0.25">Control</text>
<rect x="233.5" y="299.07" width="15.1" height="111.93" fill="#e4e4e4" stroke="#444" stroke-width="1"/>
<path d="M241.05 299.07V291.15" stroke="#333" stroke-width="1" fill="none"/>
<path d="M236.85 291.15H245.25" stroke="#6a6a6a" stroke-width="1" fill="none"/>
<circle cx="241.4" cy="285.9" r="2.0" fill="#000"/>
<circle cx="241.4" cy="297.8" r="2.0" fill="#000"/>
<circle cx="241.4" cy="312.3" r="2.0" fill="#000"/>
<text x="241.7" y="275.8" font-size="12.2" font-weight="bold" text-anchor="middle" stroke="#000" stroke-width="0.25">a</text>
<line x1="241.05" y1="411" x2="241.05" y2="414" stroke="#8a8a8a" stroke-width="1"/>
<text transform="translate(244.75,422.2) rotate(-45)" font-size="10.4" font-weight="bold" text-anchor="end" stroke="#000" stroke-width="0.25">Wounded</text>
<rect x="253.5" y="404.45" width="15.1" height="6.55" fill="#a6a6a6" stroke="#444" stroke-width="1"/>
<path d="M261.05 404.45V402.26" stroke="#333" stroke-width="1" fill="none"/>
<path d="M256.85 402.26H265.25" stroke="#6a6a6a" stroke-width="1" fill="none"/>
<circle cx="257.2" cy="401.9" r="2.0" fill="#000"/>
<circle cx="264.8" cy="403.2" r="2.0" fill="#000"/>
<circle cx="261" cy="407.7" r="2.0" fill="#000"/>
<text x="261.3" y="391.8" font-size="12.2" font-weight="bold" text-anchor="middle" stroke="#000" stroke-width="0.25">c</text>
<line x1="261.05" y1="411" x2="261.05" y2="414" stroke="#8a8a8a" stroke-width="1"/>
<text transform="translate(264.75,422.2) rotate(-45)" font-size="10.4" font-weight="bold" text-anchor="end" stroke="#000" stroke-width="0.25">Water</text>
<rect x="272.8" y="332.1" width="15.1" height="78.9" fill="#7d7d7d" stroke="#444" stroke-width="1"/>
<path d="M280.35 332.1V325.55" stroke="#333" stroke-width="1" fill="none"/>
<path d="M276.15 325.55H284.55" stroke="#6a6a6a" stroke-width="1" fill="none"/>
<circle cx="280.5" cy="320" r="2.0" fill="#000"/>
<circle cx="280.5" cy="333.6" r="2.0" fill="#000"/>
<circle cx="280.5" cy="341.8" r="2.0" fill="#000"/>
<text x="280.8" y="310.1" font-size="12.2" font-weight="bold" text-anchor="middle" stroke="#000" stroke-width="0.25">b</text>
<line x1="280.35" y1="411" x2="280.35" y2="414" stroke="#8a8a8a" stroke-width="1"/>
<text transform="translate(284.05,422.2) rotate(-45)" font-size="10.4" font-weight="bold" text-anchor="end" stroke="#000" stroke-width="0.25">OPDA</text>
<path d="M205.4 274.5V411.6" stroke="#3a3a3a" stroke-width="1.1" fill="none"/>
<path d="M204.8 411H297.1" stroke="#8a8a8a" stroke-width="1.3" fill="none"/>
<line x1="202.4" y1="411" x2="205.4" y2="411" stroke="#3a3a3a" stroke-width="1"/>
<text x="202.4" y="414.5" font-size="9.4" font-weight="bold" text-anchor="end" stroke="#000" stroke-width="0.15">0.0</text>
<line x1="202.4" y1="383.7" x2="205.4" y2="383.7" stroke="#3a3a3a" stroke-width="1"/>
<text x="202.4" y="387.2" font-size="9.4" font-weight="bold" text-anchor="end" stroke="#000" stroke-width="0.15">0.5</text>
<line x1="202.4" y1="356.4" x2="205.4" y2="356.4" stroke="#3a3a3a" stroke-width="1"/>
<text x="202.4" y="359.9" font-size="9.4" font-weight="bold" text-anchor="end" stroke="#000" stroke-width="0.15">1.0</text>
<line x1="202.4" y1="329.1" x2="205.4" y2="329.1" stroke="#3a3a3a" stroke-width="1"/>
<text x="202.4" y="332.6" font-size="9.4" font-weight="bold" text-anchor="end" stroke="#000" stroke-width="0.15">1.5</text>
<line x1="202.4" y1="301.8" x2="205.4" y2="301.8" stroke="#3a3a3a" stroke-width="1"/>
<text x="202.4" y="305.3" font-size="9.4" font-weight="bold" text-anchor="end" stroke="#000" stroke-width="0.15">2.0</text>
<line x1="202.4" y1="274.5" x2="205.4" y2="274.5" stroke="#3a3a3a" stroke-width="1"/>
<text x="202.4" y="278" font-size="9.4" font-weight="bold" text-anchor="end" stroke="#000" stroke-width="0.15">2.5</text>
<text transform="translate(185.9,339.6) rotate(-90)" font-size="11.7" font-weight="bold" text-anchor="middle" stroke="#000" stroke-width="0.2">Relative expression</text>
<text x="384" y="260.3" font-size="16.4" font-weight="bold" font-style="italic" text-anchor="middle" stroke="#000" stroke-width="0.3">FAD-OXR</text>
<rect x="347.1" y="393.35" width="15.1" height="17.65" fill="#ffffff" stroke="#444" stroke-width="1"/>
<path d="M354.65 393.35V389.34" stroke="#333" stroke-width="1" fill="none"/>
<path d="M350.45 389.34H358.85" stroke="#6a6a6a" stroke-width="1" fill="none"/>
<circle cx="354.8" cy="385.9" r="2.0" fill="#000"/>
<circle cx="350.7" cy="397.4" r="2.0" fill="#000"/>
<circle cx="358.7" cy="396.3" r="2.0" fill="#000"/>
<text x="355.1" y="376.1" font-size="12.2" font-weight="bold" text-anchor="middle" stroke="#000" stroke-width="0.25">b c</text>
<line x1="354.65" y1="411" x2="354.65" y2="414" stroke="#8a8a8a" stroke-width="1"/>
<text transform="translate(358.35,422.2) rotate(-45)" font-size="10.4" font-weight="bold" text-anchor="end" stroke="#000" stroke-width="0.25">Control</text>
<rect x="366.8" y="311.81" width="15.1" height="99.19" fill="#e4e4e4" stroke="#444" stroke-width="1"/>
<path d="M374.35 311.81V307.26" stroke="#333" stroke-width="1" fill="none"/>
<path d="M370.15 307.26H378.55" stroke="#6a6a6a" stroke-width="1" fill="none"/>
<circle cx="374.7" cy="303.1" r="2.0" fill="#000"/>
<circle cx="370.3" cy="318" r="2.0" fill="#000"/>
<circle cx="378.5" cy="315.2" r="2.0" fill="#000"/>
<text x="375" y="292.7" font-size="12.2" font-weight="bold" text-anchor="middle" stroke="#000" stroke-width="0.25">a</text>
<line x1="374.35" y1="411" x2="374.35" y2="414" stroke="#8a8a8a" stroke-width="1"/>
<text transform="translate(378.05,422.2) rotate(-45)" font-size="10.4" font-weight="bold" text-anchor="end" stroke="#000" stroke-width="0.25">Wounded</text>
<rect x="386.4" y="399.99" width="15.1" height="11.01" fill="#a6a6a6" stroke="#444" stroke-width="1"/>
<path d="M393.95 399.99V395.26" stroke="#333" stroke-width="1" fill="none"/>
<path d="M389.75 395.26H398.15" stroke="#6a6a6a" stroke-width="1" fill="none"/>
<circle cx="389.8" cy="394.5" r="2.0" fill="#000"/>
<circle cx="398" cy="395.9" r="2.0" fill="#000"/>
<circle cx="394.2" cy="409" r="2.0" fill="#000"/>
<text x="394.5" y="384.4" font-size="12.2" font-weight="bold" text-anchor="middle" stroke="#000" stroke-width="0.25">c</text>
<line x1="393.95" y1="411" x2="393.95" y2="414" stroke="#8a8a8a" stroke-width="1"/>
<text transform="translate(397.65,422.2) rotate(-45)" font-size="10.4" font-weight="bold" text-anchor="end" stroke="#000" stroke-width="0.25">Water</text>
<rect x="405.6" y="379.24" width="15.1" height="31.76" fill="#7d7d7d" stroke="#444" stroke-width="1"/>
<path d="M413.15 379.24V373.69" stroke="#333" stroke-width="1" fill="none"/>
<path d="M408.95 373.69H417.35" stroke="#6a6a6a" stroke-width="1" fill="none"/>
<circle cx="413.4" cy="370.6" r="2.0" fill="#000"/>
<circle cx="413.4" cy="379.7" r="2.0" fill="#000"/>
<circle cx="413.4" cy="387.1" r="2.0" fill="#000"/>
<text x="413.7" y="361" font-size="12.2" font-weight="bold" text-anchor="middle" stroke="#000" stroke-width="0.25">b</text>
<line x1="413.15" y1="411" x2="413.15" y2="414" stroke="#8a8a8a" stroke-width="1"/>
<text transform="translate(416.85,422.2) rotate(-45)" font-size="10.4" font-weight="bold" text-anchor="end" stroke="#000" stroke-width="0.25">OPDA</text>
<path d="M338.5 274.5V411.6" stroke="#3a3a3a" stroke-width="1.1" fill="none"/>
<path d="M337.9 411H430" stroke="#8a8a8a" stroke-width="1.3" fill="none"/>
<line x1="335.5" y1="411" x2="338.5" y2="411" stroke="#3a3a3a" stroke-width="1"/>
<text x="335.5" y="414.5" font-size="9.4" font-weight="bold" text-anchor="end" stroke="#000" stroke-width="0.15">0</text>
<line x1="335.5" y1="365.5" x2="338.5" y2="365.5" stroke="#3a3a3a" stroke-width="1"/>
<text x="335.5" y="369" font-size="9.4" font-weight="bold" text-anchor="end" stroke="#000" stroke-width="0.15">5</text>
<line x1="335.5" y1="320" x2="338.5" y2="320" stroke="#3a3a3a" stroke-width="1"/>
<text x="335.5" y="323.5" font-size="9.4" font-weight="bold" text-anchor="end" stroke="#000" stroke-width="0.15">10</text>
<line x1="335.5" y1="274.5" x2="338.5" y2="274.5" stroke="#3a3a3a" stroke-width="1"/>
<text x="335.5" y="278" font-size="9.4" font-weight="bold" text-anchor="end" stroke="#000" stroke-width="0.15">15</text>
<text x="514" y="260.3" font-size="16.4" font-weight="bold" font-style="italic" text-anchor="middle" stroke="#000" stroke-width="0.3">ZAT10</text>
<rect x="477" y="389.84" width="15.1" height="21.16" fill="#ffffff" stroke="#444" stroke-width="1"/>
<path d="M484.55 389.84V386.43" stroke="#333" stroke-width="1" fill="none"/>
<path d="M480.35 386.43H488.75" stroke="#6a6a6a" stroke-width="1" fill="none"/>
<circle cx="484.7" cy="384.9" r="2.0" fill="#000"/>
<circle cx="484.7" cy="393.1" r="2.0" fill="#000"/>
<circle cx="484" cy="389" r="2.0" fill="#000"/>
<text x="485" y="375.3" font-size="12.2" font-weight="bold" text-anchor="middle" stroke="#000" stroke-width="0.25">b</text>
<line x1="484.55" y1="411" x2="484.55" y2="414" stroke="#8a8a8a" stroke-width="1"/>
<text transform="translate(488.25,422.2) rotate(-45)" font-size="10.4" font-weight="bold" text-anchor="end" stroke="#000" stroke-width="0.25">Control</text>
<rect x="496.9" y="329.1" width="15.1" height="81.9" fill="#e4e4e4" stroke="#444" stroke-width="1"/>
<path d="M504.45 329.1V312.04" stroke="#333" stroke-width="1" fill="none"/>
<path d="M500.25 312.04H508.65" stroke="#6a6a6a" stroke-width="1" fill="none"/>
<circle cx="504.4" cy="304.8" r="2.0" fill="#000"/>
<circle cx="504.4" cy="318.7" r="2.0" fill="#000"/>
<circle cx="504.5" cy="360.2" r="2.0" fill="#000"/>
<text x="504.7" y="294.5" font-size="12.2" font-weight="bold" text-anchor="middle" stroke="#000" stroke-width="0.25">a</text>
<line x1="504.45" y1="411" x2="504.45" y2="414" stroke="#8a8a8a" stroke-width="1"/>
<text transform="translate(508.15,422.2) rotate(-45)" font-size="10.4" font-weight="bold" text-anchor="end" stroke="#000" stroke-width="0.25">Wounded</text>
<rect x="516.5" y="402.26" width="15.1" height="8.74" fill="#a6a6a6" stroke="#444" stroke-width="1"/>
<path d="M524.05 402.26V400.9" stroke="#333" stroke-width="1" fill="none"/>
<path d="M519.85 400.9H528.25" stroke="#6a6a6a" stroke-width="1" fill="none"/>
<circle cx="519.6" cy="399.2" r="2.0" fill="#000"/>
<circle cx="527.8" cy="402.7" r="2.0" fill="#000"/>
<circle cx="519.6" cy="404.1" r="2.0" fill="#000"/>
<text x="524" y="389" font-size="12.2" font-weight="bold" text-anchor="middle" stroke="#000" stroke-width="0.25">b</text>
<line x1="524.05" y1="411" x2="524.05" y2="414" stroke="#8a8a8a" stroke-width="1"/>
<text transform="translate(527.75,422.2) rotate(-45)" font-size="10.4" font-weight="bold" text-anchor="end" stroke="#000" stroke-width="0.25">Water</text>
<rect x="535.8" y="360.9" width="15.1" height="50.1" fill="#7d7d7d" stroke="#444" stroke-width="1"/>
<path d="M543.35 360.9V352.31" stroke="#333" stroke-width="1" fill="none"/>
<path d="M539.15 352.31H547.55" stroke="#6a6a6a" stroke-width="1" fill="none"/>
<circle cx="543.5" cy="347" r="2.0" fill="#000"/>
<circle cx="543.5" cy="358.3" r="2.0" fill="#000"/>
<circle cx="543.5" cy="374.7" r="2.0" fill="#000"/>
<text x="543.8" y="337.1" font-size="12.2" font-weight="bold" text-anchor="middle" stroke="#000" stroke-width="0.25">ab</text>
<line x1="543.35" y1="411" x2="543.35" y2="414" stroke="#8a8a8a" stroke-width="1"/>
<text transform="translate(547.05,422.2) rotate(-45)" font-size="10.4" font-weight="bold" text-anchor="end" stroke="#000" stroke-width="0.25">OPDA</text>
<path d="M468.5 274.5V411.6" stroke="#3a3a3a" stroke-width="1.1" fill="none"/>
<path d="M467.9 411H560" stroke="#8a8a8a" stroke-width="1.3" fill="none"/>
<line x1="465.5" y1="411" x2="468.5" y2="411" stroke="#3a3a3a" stroke-width="1"/>
<text x="465.5" y="414.5" font-size="9.4" font-weight="bold" text-anchor="end" stroke="#000" stroke-width="0.15">0</text>
<line x1="465.5" y1="383.7" x2="468.5" y2="383.7" stroke="#3a3a3a" stroke-width="1"/>
<text x="465.5" y="387.2" font-size="9.4" font-weight="bold" text-anchor="end" stroke="#000" stroke-width="0.15">2</text>
<line x1="465.5" y1="356.4" x2="468.5" y2="356.4" stroke="#3a3a3a" stroke-width="1"/>
<text x="465.5" y="359.9" font-size="9.4" font-weight="bold" text-anchor="end" stroke="#000" stroke-width="0.15">4</text>
<line x1="465.5" y1="329.1" x2="468.5" y2="329.1" stroke="#3a3a3a" stroke-width="1"/>
<text x="465.5" y="332.6" font-size="9.4" font-weight="bold" text-anchor="end" stroke="#000" stroke-width="0.15">6</text>
<line x1="465.5" y1="301.8" x2="468.5" y2="301.8" stroke="#3a3a3a" stroke-width="1"/>
<text x="465.5" y="305.3" font-size="9.4" font-weight="bold" text-anchor="end" stroke="#000" stroke-width="0.15">8</text>
<line x1="465.5" y1="274.5" x2="468.5" y2="274.5" stroke="#3a3a3a" stroke-width="1"/>
<text x="465.5" y="278" font-size="9.4" font-weight="bold" text-anchor="end" stroke="#000" stroke-width="0.15">10</text>
<text x="639.4" y="260.3" font-size="16.4" font-weight="bold" font-style="italic" text-anchor="middle" stroke="#000" stroke-width="0.3">ERF5</text>
<rect x="601.8" y="350.94" width="15.1" height="60.06" fill="#ffffff" stroke="#444" stroke-width="1"/>
<path d="M609.35 350.94V339.11" stroke="#333" stroke-width="1" fill="none"/>
<path d="M605.15 339.11H613.55" stroke="#6a6a6a" stroke-width="1" fill="none"/>
<circle cx="608.9" cy="331.4" r="2.0" fill="#000"/>
<circle cx="608.9" cy="351.4" r="2.0" fill="#000"/>
<circle cx="608.9" cy="369.8" r="2.0" fill="#000"/>
<text x="609.7" y="321.3" font-size="12.2" font-weight="bold" text-anchor="middle" stroke="#000" stroke-width="0.25">b</text>
<line x1="609.35" y1="411" x2="609.35" y2="414" stroke="#555" stroke-width="1"/>
<text transform="translate(613.05,422.2) rotate(-45)" font-size="10.4" font-weight="bold" text-anchor="end" stroke="#000" stroke-width="0.25">Control</text>
<rect x="621" y="305.89" width="15.1" height="105.11" fill="#e4e4e4" stroke="#444" stroke-width="1"/>
<path d="M628.55 305.89V299.8" stroke="#333" stroke-width="1" fill="none"/>
<path d="M624.35 299.8H632.75" stroke="#6a6a6a" stroke-width="1" fill="none"/>
<circle cx="628.6" cy="293.3" r="2.0" fill="#000"/>
<circle cx="624.6" cy="313.6" r="2.0" fill="#000"/>
<circle cx="632.9" cy="309.9" r="2.0" fill="#000"/>
<text x="628.9" y="282.9" font-size="12.2" font-weight="bold" text-anchor="middle" stroke="#000" stroke-width="0.25">a</text>
<line x1="628.55" y1="411" x2="628.55" y2="414" stroke="#555" stroke-width="1"/>
<text transform="translate(632.25,422.2) rotate(-45)" font-size="10.4" font-weight="bold" text-anchor="end" stroke="#000" stroke-width="0.25">Wounded</text>
<rect x="640.9" y="386.43" width="15.1" height="24.57" fill="#a6a6a6" stroke="#444" stroke-width="1"/>
<path d="M648.45 386.43V381.88" stroke="#333" stroke-width="1" fill="none"/>
<path d="M644.25 381.88H652.65" stroke="#6a6a6a" stroke-width="1" fill="none"/>
<circle cx="643.9" cy="380.2" r="2.0" fill="#000"/>
<circle cx="652.1" cy="383.5" r="2.0" fill="#000"/>
<circle cx="648" cy="394.8" r="2.0" fill="#000"/>
<text x="648.3" y="369.8" font-size="12.2" font-weight="bold" text-anchor="middle" stroke="#000" stroke-width="0.25">c</text>
<line x1="648.45" y1="411" x2="648.45" y2="414" stroke="#555" stroke-width="1"/>
<text transform="translate(652.15,422.2) rotate(-45)" font-size="10.4" font-weight="bold" text-anchor="end" stroke="#000" stroke-width="0.25">Water</text>
<rect x="660.4" y="295.88" width="15.1" height="115.12" fill="#7d7d7d" stroke="#444" stroke-width="1"/>
<path d="M667.95 295.88V289.06" stroke="#333" stroke-width="1" fill="none"/>
<path d="M663.75 289.06H672.15" stroke="#6a6a6a" stroke-width="1" fill="none"/>
<circle cx="667.8" cy="282.1" r="2.0" fill="#000"/>
<circle cx="667.8" cy="298.9" r="2.0" fill="#000"/>
<circle cx="667.8" cy="304.8" r="2.0" fill="#000"/>
<text x="668.1" y="271.9" font-size="12.2" font-weight="bold" text-anchor="middle" stroke="#000" stroke-width="0.25">a</text>
<line x1="667.95" y1="411" x2="667.95" y2="414" stroke="#555" stroke-width="1"/>
<text transform="translate(671.65,422.2) rotate(-45)" font-size="10.4" font-weight="bold" text-anchor="end" stroke="#000" stroke-width="0.25">OPDA</text>
<path d="M592.9 274.5V411.6" stroke="#8a8a8a" stroke-width="1.3" fill="none"/>
<path d="M592.3 411H683" stroke="#555" stroke-width="1.3" fill="none"/>
<line x1="589.9" y1="411" x2="592.9" y2="411" stroke="#8a8a8a" stroke-width="1"/>
<text x="589.9" y="414.5" font-size="9.4" font-weight="bold" text-anchor="end" stroke="#000" stroke-width="0.15">0.0</text>
<line x1="589.9" y1="365.5" x2="592.9" y2="365.5" stroke="#8a8a8a" stroke-width="1"/>
<text x="589.9" y="369" font-size="9.4" font-weight="bold" text-anchor="end" stroke="#000" stroke-width="0.15">0.5</text>
<line x1="589.9" y1="320" x2="592.9" y2="320" stroke="#8a8a8a" stroke-width="1"/>
<text x="589.9" y="323.5" font-size="9.4" font-weight="bold" text-anchor="end" stroke="#000" stroke-width="0.15">1.0</text>
<line x1="589.9" y1="274.5" x2="592.9" y2="274.5" stroke="#8a8a8a" stroke-width="1"/>
<text x="589.9" y="278" font-size="9.4" font-weight="bold" text-anchor="end" stroke="#000" stroke-width="0.15">1.5</text>
</svg>
</body></html>
